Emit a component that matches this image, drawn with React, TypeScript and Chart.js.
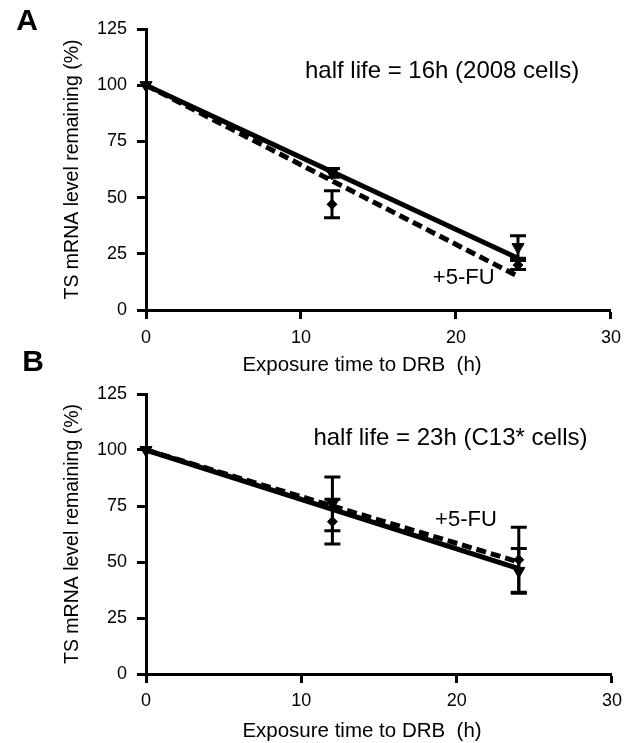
import React, { useEffect, useRef } from "react";
import { Chart, registerables } from "chart.js";

Chart.register(...registerables);

// ---------- data ----------
const xTicks = [0, 10, 20, 30];
const yTicks = [0, 25, 50, 75, 100, 125];

const fitTimes = [0, 24];
const fitA_ctrl = [100, 23];
const fitA_fu = [100, 15];
const fitB_ctrl = [100, 47];
const fitB_fu = [100, 50];

const times = [0, 12, 24];
const A_ctrl = [100, 61, 28];
const A_ctrlErr = [0, 2, 5];
const A_fu = [100, 47, 20];
const A_fuErr = [0, 6, 2];
const B_ctrl = [100, 76, 46];
const B_ctrlErr = [0, 12, 10];
const B_fu = [100, 68, 51];
const B_fuErr = [0, 10, 14.5];

const labelA = "A";
const labelB = "B";
const halfLifeA = "half life = 16h (2008 cells)";
const halfLifeB = "half life = 23h (C13* cells)";
const fuLabel = "+5-FU";
const xTitle = "Exposure time to DRB  (h)";
const yTitle = "TS mRNA level remaining (%)";

const FONT = "'Liberation Sans', Arial, Helvetica, sans-serif";

const toPts = (xs: number[], ys: number[]) => xs.map((x, i) => ({ x, y: ys[i] }));

const errorBarPlugin = {
  id: "errorBars",
  beforeDatasetsDraw(chart: any, _args: any, opts: any) {
    const { ctx, scales } = chart;
    const xs = scales.x;
    const ys = scales.y;
    ctx.save();
    ctx.strokeStyle = "#000";
    ctx.lineWidth = 3;
    for (const s of opts.series || []) {
      s.mean.forEach((m: number, i: number) => {
        const e = s.err[i];
        if (!e) return;
        const px = xs.getPixelForValue(s.x[i]);
        const top = ys.getPixelForValue(m + e);
        const bot = ys.getPixelForValue(m - e);
        ctx.beginPath();
        ctx.moveTo(px, top);
        ctx.lineTo(px, bot);
        ctx.moveTo(px - 8, top);
        ctx.lineTo(px + 8, top);
        ctx.moveTo(px - 8, bot);
        ctx.lineTo(px + 8, bot);
        ctx.stroke();
      });
    }
    ctx.restore();
  },
};

const textPlugin = {
  id: "texts",
  afterDraw(chart: any, _args: any, opts: any) {
    const { ctx, scales } = chart;
    ctx.save();
    ctx.fillStyle = "#000";
    ctx.textBaseline = "middle";
    for (const t of opts.items || []) {
      ctx.font = t.font;
      ctx.textAlign = t.align || "center";
      const px = t.data ? scales.x.getPixelForValue(t.x) : t.x;
      const py = t.data ? scales.y.getPixelForValue(t.y) : t.y;
      ctx.fillText(t.text, px, py);
    }
    ctx.restore();
  },
};

function makeConfig(p: {
  fitCtrl: number[];
  fitFu: number[];
  ctrl: number[];
  ctrlErr: number[];
  fu: number[];
  fuErr: number[];
  padTop: number;
  xAxisH: number;
  xTickPad: number;
  texts: any[];
}) {
  return {
    type: "scatter",
    data: {
      datasets: [
        {
          data: toPts(fitTimes, p.fitFu),
          showLine: true,
          borderColor: "#000",
          borderWidth: 5,
          borderDash: [10, 5],
          pointRadius: 0,
          clip: false,
        },
        {
          data: toPts(fitTimes, p.fitCtrl),
          showLine: true,
          borderColor: "#000",
          borderWidth: 5,
          pointRadius: 0,
          clip: false,
        },
        {
          data: toPts(times, p.fu),
          showLine: false,
          pointStyle: "rectRot",
          pointRadius: 5,
          backgroundColor: "#000",
          borderColor: "#000",
          borderWidth: 1,
          clip: false,
        },
        {
          data: toPts(times, p.ctrl),
          showLine: false,
          pointStyle: "triangle",
          rotation: 180,
          pointRadius: 7,
          backgroundColor: "#000",
          borderColor: "#000",
          borderWidth: 1,
          clip: false,
        },
      ],
    },
    options: {
      responsive: false,
      animation: false,
      events: [],
      layout: { padding: { left: 0, right: 16, top: p.padTop, bottom: 0 } },
      plugins: {
        legend: { display: false },
        tooltip: { enabled: false },
        errorBars: {
          series: [
            { x: times, mean: p.ctrl, err: p.ctrlErr },
            { x: times, mean: p.fu, err: p.fuErr },
          ],
        },
        texts: { items: p.texts },
      },
      scales: {
        x: {
          type: "linear",
          min: 0,
          max: 30,
          afterBuildTicks: (s: any) => {
            s.ticks = xTicks.map((v) => ({ value: v }));
          },
          afterFit: (s: any) => {
            s.height = p.xAxisH;
          },
          grid: {
            drawOnChartArea: false,
            drawTicks: true,
            tickLength: 9,
            tickWidth: 3,
            tickColor: "#000",
          },
          border: { display: true, width: 3, color: "#000" },
          ticks: {
            color: "#000",
            padding: p.xTickPad,
            font: { family: FONT, size: 18 },
          },
          title: { display: false },
        },
        y: {
          type: "linear",
          min: 0,
          max: 125,
          afterBuildTicks: (s: any) => {
            s.ticks = yTicks.map((v) => ({ value: v }));
          },
          afterFit: (s: any) => {
            s.width = 146;
          },
          grid: {
            drawOnChartArea: false,
            drawTicks: true,
            tickLength: 9,
            tickWidth: 3,
            tickColor: "#000",
          },
          border: { display: true, width: 3, color: "#000" },
          ticks: {
            color: "#000",
            padding: 10,
            font: { family: FONT, size: 18 },
          },
          title: {
            display: true,
            text: yTitle,
            color: "#000",
            font: { family: FONT, size: 19.5, lineHeight: 1 },
            padding: { top: 63, bottom: 0 },
          },
        },
      },
    },
    plugins: [errorBarPlugin, textPlugin],
  } as any;
}

function Panel({ config, top, height }: { config: any; top: number; height: number }) {
  const ref = useRef<HTMLCanvasElement | null>(null);
  useEffect(() => {
    if (!ref.current) return;
    const chart = new Chart(ref.current, config);
    return () => chart.destroy();
  }, [config]);
  return (
    <canvas
      ref={ref}
      width={629}
      height={height}
      style={{ position: "absolute", left: 0, top, width: 629, height, display: "block" }}
    />
  );
}

const configA = makeConfig({
  fitCtrl: fitA_ctrl,
  fitFu: fitA_fu,
  ctrl: A_ctrl,
  ctrlErr: A_ctrlErr,
  fu: A_fu,
  fuErr: A_fuErr,
  padTop: 29,
  xAxisH: 65,
  xTickPad: 8,
  texts: [
    { text: labelA, x: 27, y: 22, font: `bold 30px ${FONT}` },
    { text: xTitle, x: 362, y: 365, font: `20.5px ${FONT}` },
    { text: halfLifeA, data: true, x: 19.1, y: 106, font: `24px ${FONT}` },
    { text: fuLabel, data: true, x: 20.5, y: 14.2, font: `22px ${FONT}` },
  ],
});

const configB = makeConfig({
  fitCtrl: fitB_ctrl,
  fitFu: fitB_fu,
  ctrl: B_ctrl,
  ctrlErr: B_ctrlErr,
  fu: B_fu,
  fuErr: B_fuErr,
  padTop: 49,
  xAxisH: 69,
  xTickPad: 7,
  texts: [
    { text: labelB, x: 33, y: 18, font: `bold 30px ${FONT}` },
    { text: xTitle, x: 362, y: 386, font: `20.5px ${FONT}` },
    { text: halfLifeB, data: true, x: 19.6, y: 105.4, font: `24px ${FONT}` },
    { text: fuLabel, data: true, x: 20.6, y: 68.7, font: `22px ${FONT}` },
  ],
});

export default function App() {
  return (
    <div
      style={{
        position: "fixed",
        left: 0,
        top: 0,
        width: 629,
        height: 743,
        background: "#fff",
        overflow: "hidden",
      }}
    >
      <Panel config={configA} top={0} height={375} />
      <Panel config={configB} top={345} height={398} />
    </div>
  );
}
